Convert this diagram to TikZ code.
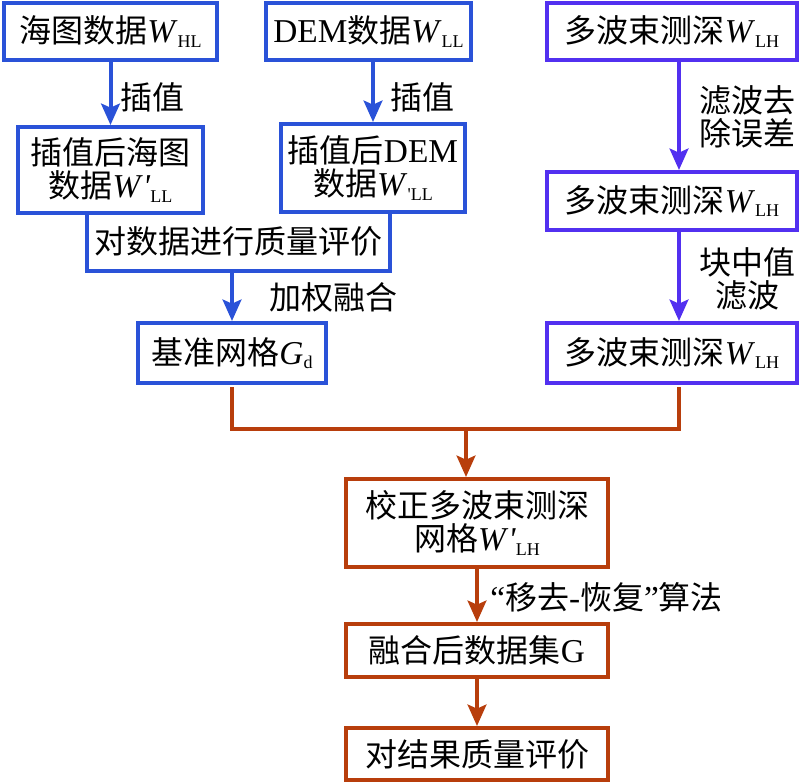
\documentclass[tikz,border=0pt]{standalone}
\usepackage{fontspec}
\setmainfont{Liberation Serif}[Ligatures=TeXOff]
\newfontfamily\cjk{Noto Sans CJK SC}
\usetikzlibrary{arrows.meta}
\definecolor{lblue}{HTML}{2A52D8}
\definecolor{rviolet}{HTML}{5230F0}
\definecolor{rust}{HTML}{B83E0C}
\newcommand\zh[1]{{\cjk\fontsize{24}{24.5}\selectfont #1}}
\newcommand\sbs[1]{\raisebox{-3.5pt}{\fontsize{13.5}{14}\selectfont #1}}
\newcommand\Wv{\textit{W}}
\tikzset{
  bx/.style 2 args={draw, line width=3pt, inner sep=0pt, align=center,
    minimum width=#1*0.75pt, minimum height=#2*0.75pt,
    font=\fontsize{25}{24.5}\selectfont},
  txt/.style={inner sep=0pt, align=center, font=\fontsize{25}{24.5}\selectfont},
  arr/.style={line width=3pt, -{Stealth[length=16pt, width=14pt, inset=3pt]}},
  ln/.style={line width=3pt}
}
\begin{document}
\begin{tikzpicture}[x=0.75pt,y=-0.75pt]
\useasboundingbox[fill=white] (0,0) rectangle (800,782);
% left column
\node[bx={213}{57}, draw=lblue] (b1) at (110.5,31.5) {\zh{海图数据}\Wv\sbs{HL}};
\node[bx={205}{57}, draw=lblue] (b2) at (368.5,31.5) {DEM\zh{数据}\Wv\sbs{LL}};
\node[bx={185}{86}, draw=lblue] (b3) at (110.5,170) {\zh{插值后海图}\\\zh{数据}\Wv\textit{'}\sbs{LL}};
\node[bx={184}{88}, draw=lblue] (b4) at (373,168) {\zh{插值后}DEM\\\zh{数据}\Wv\sbs{'LL}};
\node[bx={299}{56}, draw=none] (b5) at (238.5,241) {\zh{对数据进行质量评价}};
\draw[ln, draw=lblue] (b5.north west) -- (b5.south west) -- (b5.south east) -- (b5.north east);
\node[bx={188}{60}, draw=lblue] (b6) at (232,353) {\zh{基准网格}\textit{G}\sbs{d}};
% right column
\node[bx={250}{57}, draw=rviolet] (b7) at (672,31.5) {\zh{多波束测深}\Wv\sbs{LH}};
\node[bx={250}{58}, draw=rviolet] (b8) at (672,201) {\zh{多波束测深}\Wv\sbs{LH}};
\node[bx={250}{60}, draw=rviolet] (b9) at (672,353) {\zh{多波束测深}\Wv\sbs{LH}};
% bottom column
\node[bx={262}{88}, draw=rust] (b10) at (477,523) {\zh{校正多波束测深}\\\zh{网格}\Wv\textit{'}\sbs{LH}};
\node[bx={262}{53}, draw=rust] (b11) at (477,650.5) {\zh{融合后数据集}G};
\node[bx={262}{52}, draw=rust] (b12) at (477,754) {\zh{对结果质量评价}};
% labels
\node[txt, anchor=west] (l1) at (120,97) {\zh{插值}};
\node[txt, anchor=west] (l2) at (390,97) {\zh{插值}};
\node[txt, anchor=west] (l3) at (269,297) {\zh{加权融合}};
\node[txt, anchor=west] (l4) at (699,117) {\zh{滤波去}\\\zh{除误差}};
\node[txt, anchor=west] (l5) at (699,279) {\zh{块中值}\\\zh{滤波}};
\node[txt, anchor=west] (l6) at (490,597) {“\zh{移去}-\zh{恢复}”\zh{算法}};
% connectors
\draw[arr, draw=lblue, fill=lblue] (b1.south) -- (b3.north);
\draw[arr, draw=lblue, fill=lblue] (b4.north |- b2.south) -- (b4.north);
\draw[arr, draw=lblue, fill=lblue] (b6.north |- b5.south) -- (b6.north);
\draw[arr, draw=rviolet, fill=rviolet] ([xshift=5.25pt]b7.south) -- ([xshift=5.25pt]b8.north);
\draw[arr, draw=rviolet, fill=rviolet] ([xshift=5.25pt]b8.south) -- ([xshift=5.25pt]b9.north);
\coordinate (j) at (466,429);
\draw[ln, draw=rust] ([yshift=-1.5pt]b6.south) |- (j) -| ([xshift=5.25pt, yshift=-1.5pt]b9.south);
\draw[arr, draw=rust, fill=rust] (j) -- (j |- b10.north);
\draw[arr, draw=rust, fill=rust] (b10.south) -- (b11.north);
\draw[arr, draw=rust, fill=rust] (b11.south) -- (b12.north);
\end{tikzpicture}
\end{document}
